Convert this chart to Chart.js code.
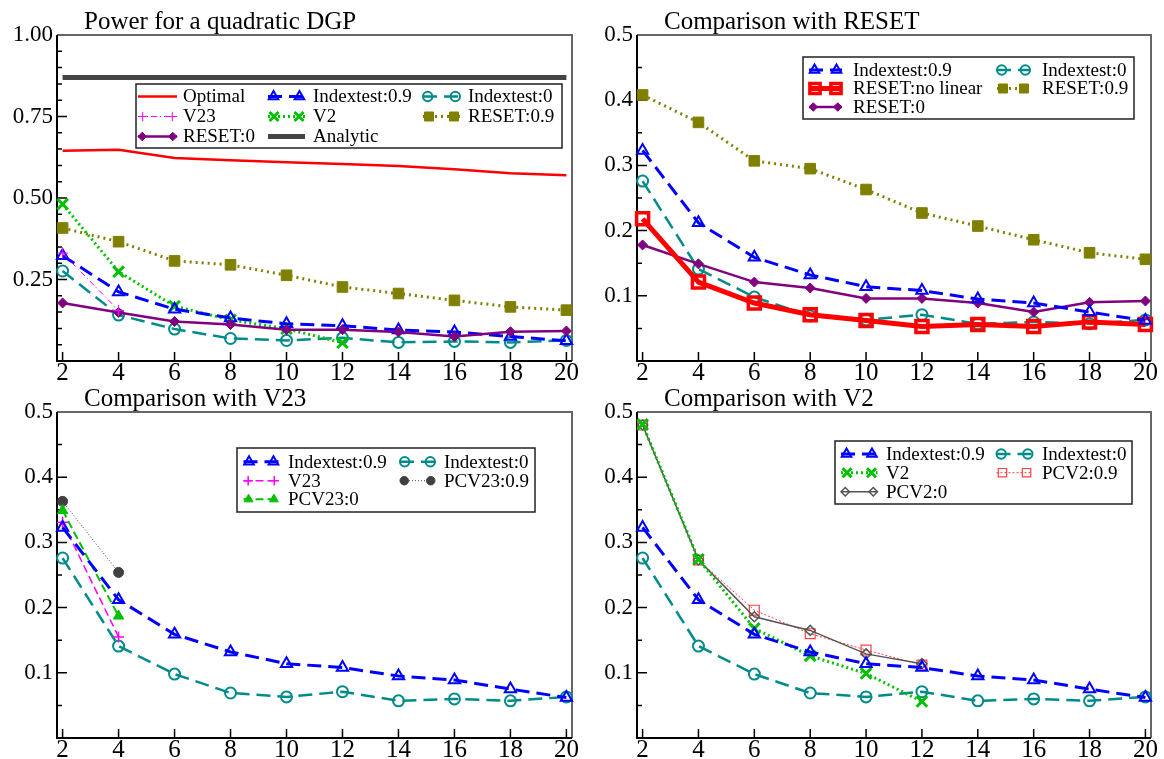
<!DOCTYPE html>
<html>
<head>
<meta charset="utf-8">
<script src="https://cdn.jsdelivr.net/npm/chart.js@4.4.1/dist/chart.umd.min.js"></script>
<style>
  html, body { margin: 0; padding: 0; background: #fff; overflow: hidden; width: 1164px; height: 759px; }
  canvas { position: absolute; }
</style>
</head>
<body>
<canvas id="c1" width="597" height="406" style="left:0px;top:0px"></canvas>
<canvas id="c2" width="596" height="406" style="left:580px;top:0px"></canvas>
<canvas id="c3" width="597" height="406" style="left:0px;top:377px"></canvas>
<canvas id="c4" width="596" height="406" style="left:580px;top:377px"></canvas>
<script>
var FONT = '"Liberation Serif", "Times New Roman", serif';

// x values (number of regressors) and tick labels
var xs = [2, 4, 6, 8, 10, 12, 14, 16, 18, 20];
var yTicksPower = [0.25, 0.5, 0.75, 1.0];
var yTicksComp = [0.1, 0.2, 0.3, 0.4, 0.5];

// series
var optimal     = [0.645, 0.648, 0.623, 0.616, 0.610, 0.604, 0.598, 0.588, 0.576, 0.570];
var analytic    = [0.870, 0.870, 0.870, 0.870, 0.870, 0.870, 0.870, 0.870, 0.870, 0.870];
var indexTest09 = [0.323, 0.212, 0.159, 0.132, 0.114, 0.108, 0.095, 0.089, 0.075, 0.062];
var indexTest0  = [0.276, 0.141, 0.098, 0.069, 0.063, 0.071, 0.057, 0.060, 0.057, 0.063];
var reset09     = [0.408, 0.366, 0.307, 0.295, 0.263, 0.227, 0.207, 0.186, 0.166, 0.156];
var reset0      = [0.178, 0.149, 0.121, 0.112, 0.096, 0.096, 0.089, 0.075, 0.090, 0.092];
var resetNoLin  = [0.218, 0.121, 0.089, 0.071, 0.062, 0.053, 0.056, 0.053, 0.060, 0.056];
var v2          = [0.481, 0.274, 0.168, 0.126, 0.099, 0.056];
var v23         = [0.331, 0.155];
var pcv23_0     = [0.349, 0.187];
var pcv23_09    = [0.363, 0.254];
var pcv2_0      = [0.480, 0.273, 0.186, 0.165, 0.129, 0.114];
var pcv2_09     = [0.480, 0.273, 0.196, 0.160, 0.135, 0.112];

// line / marker look of every series
var styles = {
  'Optimal':          { color: '#ff0000', width: 2.5 },
  'Analytic':         { color: '#444444', width: 5 },
  'Indextest:0.9':    { color: '#0000ff', width: 3, dash: [14, 7], marker: 'triangle', radius: 6.5, mwidth: 2 },
  'Indextest:0':      { color: '#008b8b', width: 2.5, dash: [14, 7], marker: 'circle', radius: 5.5, mwidth: 2 },
  'RESET:0.9':        { color: '#808000', width: 3, dash: [2, 4], marker: 'rect', radius: 7.5, mwidth: 1, filled: true },
  'RESET:0':          { color: '#800080', width: 2.5, marker: 'rectRot', radius: 5, mwidth: 1, filled: true },
  'RESET:no linear':  { color: '#ff0000', width: 5, marker: 'rect', radius: 8.5, mwidth: 3.5 },
  'V2':               { color: '#00c000', width: 3, dash: [2, 3], marker: 'crossRot', radius: 7.5, mwidth: 3 },
  'V23':              { color: '#ff00ff', width: 1, dash: [6, 3, 1, 3], marker: 'cross', radius: 5.5, mwidth: 1 },
  'PCV23:0':          { color: '#00c000', width: 2, dash: [8, 4], marker: 'triangle', radius: 6, mwidth: 1, filled: true },
  'PCV23:0.9':        { color: '#404040', width: 1, dash: [1, 2], marker: 'circle', radius: 5, mwidth: 1, filled: true },
  'PCV2:0':           { color: '#555555', width: 1.5, marker: 'rectRot', radius: 5, mwidth: 1.5 },
  'PCV2:0.9':         { color: '#ff4040', width: 1, dash: [2, 2], marker: 'rect', radius: 7, mwidth: 1.2 }
};

function serie(label, vals, over) {
  var s = Object.assign({}, styles[label], over || {});
  return {
    label: label,
    data: vals.map(function(v, i) { return { x: xs[i], y: v }; }),
    borderColor: s.color,
    borderWidth: s.width,
    borderDash: s.dash || [],
    pointStyle: s.marker || false,
    pointRadius: s.marker ? s.radius : 0,
    pointBorderColor: s.color,
    pointBackgroundColor: s.filled ? s.color : 'rgba(0,0,0,0)',
    pointBorderWidth: s.mwidth || 1,
    fill: false,
    tension: 0,
    clip: false
  };
}

// frame with inward ticks, as in the original plots
var framePlugin = {
  id: 'frame',
  beforeDatasetsDraw: function(chart, args, o) {
    var ctx = chart.ctx, a = chart.chartArea, x = chart.scales.x, y = chart.scales.y;
    ctx.save();
    ctx.lineWidth = 2;
    ctx.strokeStyle = '#666';
    ctx.beginPath();
    ctx.moveTo(a.left, a.top); ctx.lineTo(a.right, a.top); ctx.lineTo(a.right, a.bottom);
    ctx.stroke();
    ctx.strokeStyle = '#000';
    ctx.beginPath();
    ctx.moveTo(a.left, a.top); ctx.lineTo(a.left, a.bottom); ctx.lineTo(a.right, a.bottom);
    ctx.stroke();
    ctx.lineWidth = 1.5;
    ctx.beginPath();
    x.ticks.forEach(function(t) {
      var px = x.getPixelForValue(t.value);
      ctx.moveTo(px, a.bottom); ctx.lineTo(px, a.bottom - 9);
    });
    for (var v = o.minor; v < y.max - 1e-9; v += o.minor) {
      var py = y.getPixelForValue(v);
      var major = y.ticks.some(function(t) { return Math.abs(t.value - v) < 1e-6; });
      ctx.moveTo(a.left, py); ctx.lineTo(a.left + (major ? 10 : 5), py);
    }
    ctx.stroke();
    ctx.restore();
  }
};

var titlePlugin = {
  id: 'panelTitle',
  afterDraw: function(chart, args, o) {
    var ctx = chart.ctx, a = chart.chartArea;
    ctx.save();
    ctx.font = '25px ' + FONT;
    ctx.fillStyle = '#000';
    ctx.textBaseline = 'alphabetic';
    ctx.fillText(o.text, a.left + 27, a.top - 6);
    ctx.restore();
  }
};

var legendPlugin = {
  id: 'boxLegend',
  afterDraw: function(chart, args, o) {
    var ctx = chart.ctx, a = chart.chartArea, b = o.box;
    ctx.save();
    ctx.fillStyle = '#fff';
    ctx.fillRect(a.left + b[0], a.top + b[1], b[2], b[3]);
    ctx.strokeStyle = '#222';
    ctx.lineWidth = 1.5;
    ctx.strokeRect(a.left + b[0], a.top + b[1], b[2], b[3]);
    ctx.font = '19px ' + FONT;
    ctx.textBaseline = 'middle';
    chart.data.datasets.forEach(function(ds, i) {
      var col = o.cols[Math.floor(i / 3)], y = a.top + o.rows[i % 3];
      var x0 = a.left + col[0], x1 = a.left + col[1];
      ctx.setLineDash(ds.borderDash);
      ctx.strokeStyle = ds.borderColor;
      ctx.lineWidth = ds.borderWidth;
      ctx.beginPath(); ctx.moveTo(x0, y); ctx.lineTo(x1, y); ctx.stroke();
      if (ds.pointStyle) {
        ctx.setLineDash([]);
        ctx.fillStyle = ds.pointBackgroundColor;
        ctx.strokeStyle = ds.pointBorderColor;
        ctx.lineWidth = ds.pointBorderWidth;
        var r = ds.pointRadius * 0.85, off = Math.min(r, 6);
        var pt = { pointStyle: ds.pointStyle, rotation: 0, radius: r, borderWidth: ds.pointBorderWidth };
        Chart.helpers.drawPoint(ctx, pt, x0 + off, y);
        Chart.helpers.drawPoint(ctx, pt, x1 - off, y);
      }
      ctx.fillStyle = '#000';
      ctx.fillText(ds.label, a.left + col[2], y + 1);
    });
    ctx.restore();
  }
};

function makePanel(id, title, yMax, yTicks, decimals, minor, datasets, legend) {
  new Chart(document.getElementById(id), {
    type: 'line',
    data: { datasets: datasets },
    plugins: [framePlugin, titlePlugin, legendPlugin],
    options: {
      responsive: false,
      animation: false,
      layout: { padding: { top: 35, right: 25, bottom: 15, left: 0 } },
      plugins: {
        legend: { display: false },
        tooltip: { enabled: false },
        frame: { minor: minor },
        panelTitle: { text: title },
        boxLegend: legend
      },
      scales: {
        x: {
          type: 'linear', min: 1.8, max: 20.2,
          afterBuildTicks: function(s) { s.ticks = xs.map(function(v) { return { value: v }; }); },
          afterFit: function(s) { s.height = 30; },
          grid: { display: false, drawTicks: false },
          border: { display: false },
          ticks: { color: '#000', font: { family: FONT, size: 25, lineHeight: 1 }, padding: 0, maxRotation: 0, autoSkip: false }
        },
        y: {
          min: 0, max: yMax,
          afterBuildTicks: function(s) { s.ticks = yTicks.map(function(v) { return { value: v }; }); },
          afterFit: function(s) { s.width = 57; },
          grid: { display: false, drawTicks: false },
          border: { display: false },
          ticks: {
            color: '#000', font: { family: FONT, size: 23 }, padding: 4,
            callback: function(v) { return Number(v).toFixed(decimals); }
          }
        }
      }
    }
  });
}

makePanel('c1', 'Power for a quadratic DGP', 1.0, yTicksPower, 2, 0.05, [
  serie('Optimal', optimal),
  serie('V23', v23),
  serie('RESET:0', reset0),
  serie('Indextest:0.9', indexTest09),
  serie('V2', v2),
  serie('Analytic', analytic),
  serie('Indextest:0', indexTest0),
  serie('RESET:0.9', reset09)
], { box: [79, 49, 426, 64], rows: [61.5, 81.5, 101.5], cols: [[81, 120, 126], [211, 248, 256], [366, 403, 411]] });

makePanel('c2', 'Comparison with RESET', 0.5, yTicksComp, 1, 0.05, [
  serie('Indextest:0.9', indexTest09),
  serie('RESET:no linear', resetNoLin),
  serie('RESET:0', reset0),
  serie('Indextest:0', indexTest0),
  serie('RESET:0.9', reset09)
], { box: [166, 22, 331, 62], rows: [35, 53.5, 72], cols: [[172, 205, 216], [360, 393, 405]] });

makePanel('c3', 'Comparison with V23', 0.5, yTicksComp, 1, 0.05, [
  serie('Indextest:0.9', indexTest09),
  serie('V23', v23, { width: 1.5, dash: [8, 4], mwidth: 1.5 }),
  serie('PCV23:0', pcv23_0),
  serie('Indextest:0', indexTest0),
  serie('PCV23:0.9', pcv23_09)
], { box: [180, 36, 298, 64], rows: [49.7, 68.7, 87.3], cols: [[186.5, 222, 231], [343, 378, 387]] });

makePanel('c4', 'Comparison with V2', 0.5, yTicksComp, 1, 0.05, [
  serie('Indextest:0.9', indexTest09),
  serie('V2', v2),
  serie('PCV2:0', pcv2_0),
  serie('Indextest:0', indexTest0),
  serie('PCV2:0.9', pcv2_09)
], { box: [198, 29, 297, 63], rows: [42, 60.7, 79.7], cols: [[204, 240.5, 249], [359.5, 395.5, 405]] });
</script>
</body>
</html>
